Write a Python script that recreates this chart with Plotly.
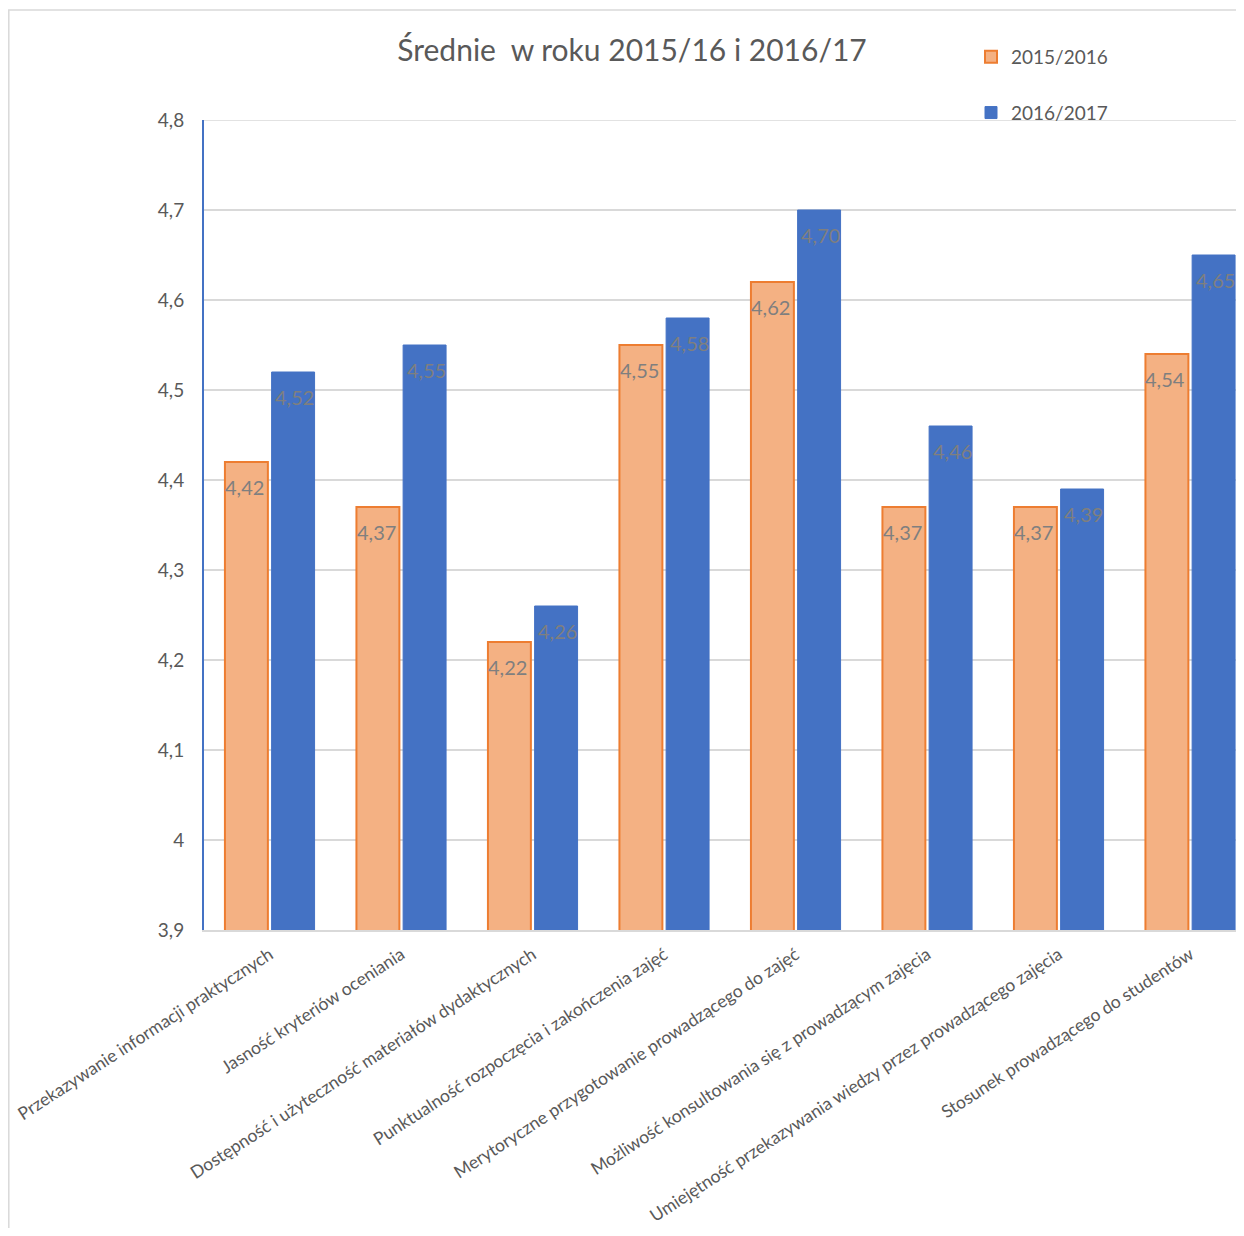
import plotly.graph_objects as go

categories = [
    "Przekazywanie informacji praktycznych",
    "Jasność kryteriów oceniania",
    "Dostępność i użyteczność materiałów dydaktycznych",
    "Punktualność rozpoczęcia i zakończenia zajęć",
    "Merytoryczne przygotowanie prowadzącego do zajęć",
    "Możliwość konsultowania się z prowadzącym zajęcia",
    "Umiejętność przekazywania wiedzy przez prowadzącego zajęcia",
    "Stosunek prowadzącego do studentów",
]
values_2015 = [4.42, 4.37, 4.22, 4.55, 4.62, 4.37, 4.37, 4.54]
values_2016 = [4.52, 4.55, 4.26, 4.58, 4.70, 4.46, 4.39, 4.65]
series_names = ["2015/2016", "2016/2017"]
y_tick_vals = [3.9, 4.0, 4.1, 4.2, 4.3, 4.4, 4.5, 4.6, 4.7, 4.8]
y_tick_text = ["3,9", "4", "4,1", "4,2", "4,3", "4,4", "4,5", "4,6", "4,7", "4,8"]

FONT = "Lato, Open Sans, sans-serif"
GRAY = "#595959"
LABEL_GRAY = "#7f7f7f"
GRID = "#d9d9d9"

# page has an 8px body margin; figure sits at (8, 8)
OFF = 8
W, H = 1244 - OFF, 1236 - 2 * OFF
L, T = 204 - OFF, 120 - OFF
B = H - (930 - OFF)
plot_w = W - L
plot_h = H - T - B

fig = go.Figure()
fig.add_trace(go.Bar(
    x=categories, y=values_2015, name=series_names[0],
    marker=dict(color="#F4B183", line=dict(color="#ED7D31", width=2)),
    legendgroup="a",
))
fig.add_trace(go.Bar(
    x=categories, y=values_2016, name=series_names[1],
    marker=dict(color="#4472C4", line=dict(color="#4472C4", width=1)),
    legendgroup="b",
))

# data labels just inside the top of each bar
for vals, dx in ((values_2015, -25), (values_2016, 25)):
    for c, v in zip(categories, vals):
        fig.add_annotation(x=c, y=v, xref="x", yref="y", text=f"{v:.2f}".replace(".", ","),
                           showarrow=False, xshift=dx, yshift=-25,
                           font=dict(family=FONT, size=20, color=LABEL_GRAY))

# top gridline (plotly clips the grid line lying on the plot edge)
fig.add_shape(type="line", xref="paper", yref="y", x0=0, x1=1,
              y0=y_tick_vals[-1], y1=y_tick_vals[-1],
              line=dict(color=GRID, width=1.5), layer="below")

# frame around chart
fx0 = (0.8 - L) / plot_w
fy1 = (H - B - (10 - OFF)) / plot_h
fig.add_shape(type="rect", xref="paper", yref="paper",
              x0=fx0, x1=1.05, y0=-0.6, y1=fy1,
              line=dict(color=GRID, width=1.5), layer="below")

fig.update_layout(
    width=W, height=H,
    margin=dict(l=L, r=0, t=T, b=B),
    paper_bgcolor="white", plot_bgcolor="white",
    separators=", ",
    font=dict(family=FONT, color=GRAY),
    title=dict(text="Średnie\u00a0 w roku 2015/16 i 2016/17",
               x=(632 - OFF) / W, xref="container", xanchor="center",
               y=1 - (50 - OFF) / H, yref="container", yanchor="middle",
               font=dict(family=FONT, size=30, color=GRAY)),
    barmode="group", bargap=0.29, bargroupgap=0.08,
    showlegend=True,
    legend=dict(x=(971 - 8 - L) / plot_w, xanchor="left",
                y=(H - B - 30) / plot_h, yanchor="top",
                font=dict(family=FONT, size=19, color=GRAY),
                traceorder="grouped", tracegroupgap=28,
                bgcolor="rgba(0,0,0,0)"),
    xaxis=dict(range=[-0.5, 7.5 - 12 / 131.4], tickangle=-33,
               tickfont=dict(family=FONT, size=17.5, color=GRAY),
               showline=True, linecolor=GRID, linewidth=1.5,
               showgrid=False, ticks="", ticklabelstandoff=6),
    yaxis=dict(range=[3.9, 4.8], tickvals=y_tick_vals, ticktext=y_tick_text,
               tickfont=dict(family=FONT, size=19, color=GRAY),
               showgrid=True, gridcolor=GRID, gridwidth=1.5,
               showline=True, linecolor="#4472C4", linewidth=2,
               zeroline=False, ticks="", ticklabelstandoff=14),
)

fig.write_html("out.html")
